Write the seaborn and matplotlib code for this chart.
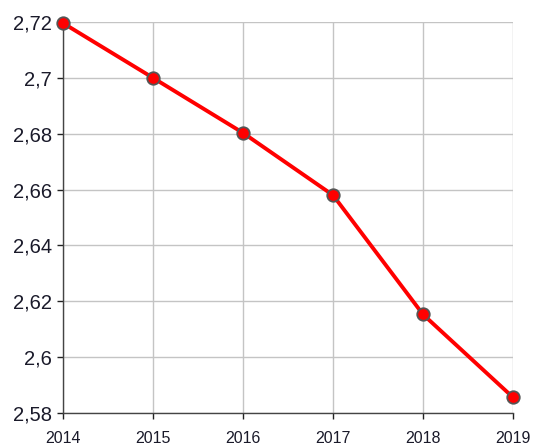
import matplotlib
matplotlib.use("Agg")
import matplotlib.pyplot as plt
import seaborn as sns
import pandas as pd
from matplotlib.ticker import FuncFormatter

years = [2014, 2015, 2016, 2017, 2018, 2019]
values = [2.7196, 2.7000, 2.6803, 2.6580, 2.6153, 2.5856]
y_ticks = [2.58, 2.60, 2.62, 2.64, 2.66, 2.68, 2.70, 2.72]

sns.set_style("white")
plt.rcParams['font.family'] = ['Liberation Sans', 'DejaVu Sans']

df = pd.DataFrame({"year": years, "value": values})

fig = plt.figure(figsize=(5.36, 4.47), dpi=100)
ax = fig.add_axes([63/536, 34/447, 450/536, 391/447])

sns.lineplot(data=df, x="year", y="value", ax=ax, color="#ff0000", linewidth=2.8,
             marker="o", markersize=9, markerfacecolor="#ff0000",
             markeredgecolor="#555555", markeredgewidth=1.3, clip_on=False, zorder=5)

ax.set_xlim(2014, 2019)
ax.set_ylim(2.58, 2.72)
ax.set_xticks(years)
ax.set_yticks(y_ticks)

def fmt(v, pos):
    s = f"{v:.2f}".rstrip("0").rstrip(".")
    return s.replace(".", ",")

ax.yaxis.set_major_formatter(FuncFormatter(fmt))
ax.xaxis.set_major_formatter(FuncFormatter(lambda v, p: f"{int(v)}"))
ax.grid(True, color="#c4c4c4", linewidth=1)
ax.set_axisbelow(True)
for s in ["top", "right"]:
    ax.spines[s].set_visible(False)
for s in ["left", "bottom"]:
    ax.spines[s].set_color("#444444")
    ax.spines[s].set_linewidth(1)
ax.tick_params(axis="both", which="major", bottom=True, left=True, length=4, width=1,
               color="#222222", direction="out", labelcolor="#1a1a2a")
ax.tick_params(axis="y", labelsize=14.5, pad=4)
ax.tick_params(axis="x", labelsize=11.5, pad=9)
ax.set_xlabel("")
ax.set_ylabel("")

fig.savefig("out.png", dpi=100)
